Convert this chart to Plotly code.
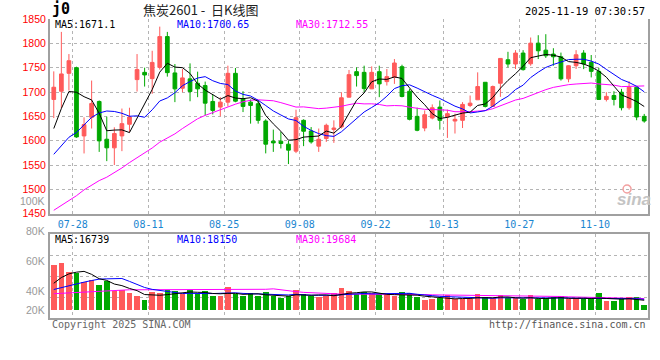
import plotly.graph_objects as go

# ---------------- data ----------------
dates = [
    "2025-07-23", "2025-07-24", "2025-07-25", "2025-07-28", "2025-07-29", "2025-07-30", "2025-07-31",
    "2025-08-01", "2025-08-04", "2025-08-05", "2025-08-06", "2025-08-07", "2025-08-08", "2025-08-11",
    "2025-08-12", "2025-08-13", "2025-08-14", "2025-08-15", "2025-08-18", "2025-08-19", "2025-08-20",
    "2025-08-21", "2025-08-22", "2025-08-25", "2025-08-26", "2025-08-27", "2025-08-28", "2025-08-29",
    "2025-09-01", "2025-09-02", "2025-09-03", "2025-09-04", "2025-09-05", "2025-09-08", "2025-09-09",
    "2025-09-10", "2025-09-11", "2025-09-12", "2025-09-15", "2025-09-16", "2025-09-17", "2025-09-18",
    "2025-09-19", "2025-09-22", "2025-09-23", "2025-09-24", "2025-09-25", "2025-09-26", "2025-09-29",
    "2025-09-30", "2025-10-09", "2025-10-10", "2025-10-13", "2025-10-14", "2025-10-15", "2025-10-16",
    "2025-10-17", "2025-10-20", "2025-10-21", "2025-10-22", "2025-10-23", "2025-10-24", "2025-10-27",
    "2025-10-28", "2025-10-29", "2025-10-30", "2025-10-31", "2025-11-03", "2025-11-04", "2025-11-05",
    "2025-11-06", "2025-11-07", "2025-11-10", "2025-11-11", "2025-11-12", "2025-11-13", "2025-11-14",
    "2025-11-17", "2025-11-18",
]

opens = [1684.7, 1701.6, 1738.4, 1750.0, 1609.8, 1648.0, 1680.6, 1603.0, 1585.3, 1609.8,
         1633.7, 1725.5, 1740.4, 1727.5, 1750.6, 1813.9, 1739.2, 1707.7, 1727.0, 1718.0,
         1713.3, 1680.6, 1669.0, 1679.2, 1738.4, 1686.1, 1679.2, 1675.9, 1640.4, 1599.0,
         1599.0, 1592.8, 1578.5, 1641.8, 1620.0, 1588.8, 1604.5, 1622.8, 1628.2, 1689.4,
         1741.8, 1740.4, 1706.5, 1741.8, 1721.4, 1730.2, 1752.0, 1701.6, 1650.0, 1626.0,
         1646.5, 1669.0, 1648.6, 1640.4, 1641.8, 1672.4, 1684.0, 1720.0, 1670.4, 1718.0,
         1766.3, 1757.5, 1780.0, 1758.0, 1800.4, 1786.0, 1778.0, 1772.4, 1727.0, 1754.0,
         1780.0, 1761.0, 1742.4, 1684.7, 1692.8, 1699.6, 1667.7, 1709.8, 1650.0]
highs = [1742.4, 1823.5, 1778.0, 1752.0, 1648.0, 1723.5, 1682.6, 1649.4, 1627.5, 1666.0,
         1667.7, 1778.0, 1750.0, 1784.7, 1834.3, 1823.5, 1757.5, 1747.3, 1758.8, 1741.8,
         1721.4, 1694.9, 1689.4, 1754.1, 1749.4, 1701.6, 1684.7, 1682.6, 1643.9, 1622.8,
         1618.0, 1599.6, 1663.7, 1643.9, 1628.0, 1625.0, 1635.0, 1641.8, 1699.6, 1745.3,
         1750.6, 1754.1, 1752.7, 1754.1, 1747.3, 1767.7, 1756.1, 1706.5, 1667.7, 1662.2,
         1674.5, 1682.6, 1663.7, 1655.5, 1679.2, 1692.8, 1740.4, 1720.0, 1713.3, 1769.8,
         1782.6, 1786.0, 1786.0, 1812.0, 1816.7, 1818.8, 1790.0, 1781.0, 1755.0, 1786.0,
         1786.0, 1776.0, 1749.4, 1699.6, 1701.6, 1706.5, 1722.0, 1710.0, 1655.0]
lows = [1646.5, 1666.0, 1703.0, 1606.0, 1573.8, 1625.0, 1577.0, 1558.0, 1550.0, 1578.5,
        1617.3, 1701.0, 1711.2, 1696.3, 1746.0, 1731.6, 1679.2, 1699.6, 1681.0, 1689.4,
        1652.0, 1654.0, 1650.0, 1670.4, 1679.0, 1658.8, 1635.0, 1635.0, 1573.9, 1577.0,
        1584.0, 1552.0, 1574.5, 1588.8, 1594.0, 1577.0, 1597.5, 1595.5, 1625.0, 1688.8,
        1711.2, 1699.6, 1706.0, 1689.4, 1713.3, 1716.7, 1689.0, 1641.8, 1619.4, 1619.4,
        1643.9, 1622.8, 1605.7, 1614.7, 1626.0, 1669.0, 1684.0, 1668.3, 1670.0, 1690.0,
        1750.6, 1747.3, 1744.0, 1754.0, 1767.7, 1770.0, 1754.0, 1723.5, 1720.0, 1747.3,
        1747.0, 1730.0, 1684.0, 1680.6, 1672.4, 1662.2, 1663.7, 1642.0, 1637.0]
closes = [1709.8, 1737.1, 1764.3, 1607.7, 1633.0, 1676.5, 1599.6, 1585.3, 1614.7, 1635.0,
          1648.6, 1746.0, 1735.1, 1760.8, 1813.9, 1739.8, 1706.5, 1729.0, 1701.0, 1706.5,
          1677.1, 1662.2, 1679.2, 1738.4, 1681.2, 1670.4, 1672.4, 1641.8, 1592.8, 1595.5,
          1594.2, 1580.6, 1647.3, 1619.4, 1597.5, 1603.0, 1631.6, 1626.0, 1688.2, 1735.7,
          1733.7, 1707.0, 1740.4, 1716.7, 1731.6, 1759.6, 1690.8, 1643.9, 1621.4, 1653.4,
          1667.7, 1641.8, 1655.5, 1643.9, 1674.5, 1677.1, 1711.2, 1670.4, 1711.2, 1769.0,
          1757.5, 1780.0, 1746.0, 1800.4, 1784.7, 1774.5, 1772.4, 1727.0, 1754.0, 1776.5,
          1757.5, 1742.4, 1684.7, 1691.0, 1684.7, 1667.7, 1709.8, 1648.6, 1640.4]
volumes = [75400, 77550, 62700, 61550, 46200, 50650, 41250, 49000, 31350, 33000,
           27550, 23100, 16500, 29700, 28550, 33000, 31350, 25900, 34150, 25900,
           31350, 23100, 23100, 37950, 25900, 23100, 27550, 23100, 29700, 23100,
           19300, 23100, 34150, 25900, 23100, 21950, 23100, 27550, 37450, 32500,
           25900, 29700, 27550, 25900, 24250, 23100, 29700, 27550, 21450, 16000,
           18650, 19300, 24250, 17650, 18650, 18650, 25900, 21450, 20300, 24250,
           19300, 19300, 18650, 24250, 17650, 19300, 21450, 23100, 18650, 19300,
           18650, 18650, 27550, 14850, 14850, 17650, 21950, 21950, 7750]

# moving-average values before a full window exists
ma5_lead = [1625, 1666, 1701, 1699.6]
ma10_lead = [1572, 1590, 1607, 1617, 1632, 1648, 1657, 1661, 1660]
ma30_lead = [1457, 1467, 1477, 1487, 1499, 1509, 1518, 1525, 1534, 1544,
             1555, 1565, 1574, 1585, 1597, 1605, 1614, 1625, 1635, 1645,
             1652, 1658, 1664, 1670, 1675, 1680, 1683, 1684, 1683]
vol_ma5_lead = [45000, 54450, 60550, 63350]
vol_ma10_lead = [34650, 37950, 40750, 43550, 46850, 49500, 51800, 52300, 52000]
vol_ma30_lead = [27700, 28400, 29050, 29700, 30350, 31200, 32000, 32650, 33150, 34200,
                 34200, 34200, 34200, 34200, 34200, 34200, 34200, 34200, 34200, 35000,
                 35000, 35000, 35000, 35000, 35000, 35000, 35000, 35000, 35000]

date_ticks = ["07-28", "08-11", "08-25", "09-08", "09-22", "10-13", "10-27", "11-10"]
price_ticks = [1450, 1500, 1550, 1600, 1650, 1700, 1750, 1800, 1850]
vol_labels = ["100K", "80K", "60K", "40K", "20K"]

title_left = "j0"
title_mid = "焦炭2601 - \u00a0日K线图"
stamp = "2025-11-19 07:30:57"
legend_price = ["MA5:1671.1", "MA10:1700.65", "MA30:1712.55"]
legend_vol = ["MA5:16739", "MA10:18150", "MA30:19684"]


def moving_average(values, n, lead):
    out = list(lead)
    for i in range(len(lead), len(values)):
        out.append(sum(values[i - n + 1:i + 1]) / n)
    return out


# ---------------- styling ----------------
RED = "#ff5a5a"
GREEN = "#00a800"
BLUE = "#0000ff"
MAGENTA = "#ff00ff"
GRID = "#b4b4b4"
FRAME = "#a0a0a0"
MONO = "DejaVu Sans Mono"
SANS = "Liberation Sans"

W, H = 660, 360
ML, MR, MT, MB = 50, 10, 19, 42
PH = H - MT - MB


def py(pix):  # pixel row -> paper y
    return (H - MB - pix) / PH


def px(pix):  # pixel column -> paper x
    return (pix - ML) / (W - ML - MR)


x = list(range(len(dates)))
tick_idx = [i for i, d in enumerate(dates) if d[5:] in date_ticks]
tick_vals = [i - 0.5 for i in tick_idx]
tick_text = [dates[i][5:] for i in tick_idx]

ma5 = moving_average(closes, 5, ma5_lead)
ma10 = moving_average(closes, 10, ma10_lead)
ma30 = moving_average(closes, 30, ma30_lead)
vma5 = moving_average(volumes, 5, vol_ma5_lead)
vma10 = moving_average(volumes, 10, vol_ma10_lead)
vma30 = moving_average(volumes, 30, vol_ma30_lead)

fig = go.Figure()
fig.add_trace(go.Candlestick(
    x=x, open=opens, high=highs, low=lows, close=closes,
    increasing=dict(line=dict(color=RED, width=1), fillcolor=RED),
    decreasing=dict(line=dict(color=GREEN, width=1), fillcolor=GREEN),
    whiskerwidth=0, hoverinfo="skip", showlegend=False, xaxis="x", yaxis="y"))
for vals, col in ((ma30, MAGENTA), (ma10, BLUE), (ma5, "#000000")):
    fig.add_trace(go.Scatter(x=x, y=vals, mode="lines", line=dict(color=col, width=1),
                             hoverinfo="skip", showlegend=False, xaxis="x", yaxis="y"))

bar_colors = [RED if c >= o else GREEN for o, c in zip(opens, closes)]
fig.add_trace(go.Bar(x=x, y=volumes, marker=dict(color=bar_colors, line=dict(width=0)),
                     width=0.74, hoverinfo="skip", showlegend=False, xaxis="x2", yaxis="y2"))
for vals, col in ((vma30, MAGENTA), (vma10, BLUE), (vma5, "#000000")):
    fig.add_trace(go.Scatter(x=x, y=vals, mode="lines", line=dict(color=col, width=1),
                             hoverinfo="skip", showlegend=False, xaxis="x2", yaxis="y2"))

vol_per_px = 1650.0
vol_base_px = 310.7
vol_top, vol_bot = 234.3, 318.3
vol_range = [(vol_base_px - vol_bot) * vol_per_px, (vol_base_px - vol_top) * vol_per_px]
vol_grid = [vol_range[0] + (vol_range[1] - vol_range[0]) * k / 4 for k in (1, 2, 3)]

main_dom = [py(213.7), 1.0]
vol_dom = [0.0, py(vol_top)]

axis_common = dict(showgrid=True, gridcolor=GRID, griddash="dot", gridwidth=1,
                   zeroline=False, ticks="", showline=True, linecolor=FRAME, linewidth=2)

fig.update_layout(
    width=W, height=H, margin=dict(l=ML, r=MR, t=MT, b=MB),
    paper_bgcolor="white", plot_bgcolor="white", bargap=0,
    xaxis=dict(domain=[0, 1], range=[-0.5, len(dates) - 0.5], anchor="y",
               tickmode="array", tickvals=tick_vals, ticktext=tick_text,
               tickfont=dict(family=MONO, size=10, color="#1a86d0"),
               rangeslider=dict(visible=False), **axis_common),
    yaxis=dict(domain=main_dom, range=[1450, 1850], anchor="x",
               tickmode="array", tickvals=price_ticks,
               tickfont=dict(family=SANS, size=10.5, color="#ff0000"),
               mirror=True, **axis_common),
    xaxis2=dict(domain=[0, 1], range=[-0.5, len(dates) - 0.5], anchor="y2", matches="x",
                tickmode="array", tickvals=tick_vals, showticklabels=False,
                mirror=True, **axis_common),
    yaxis2=dict(domain=vol_dom, range=vol_range, anchor="x2",
                tickmode="array", tickvals=vol_grid, showticklabels=False,
                mirror=True, **axis_common),
)

ann = []
# top texts
ann.append(dict(text="<b>" + title_left + "</b>", x=px(50), y=py(9.5), xanchor="left", yanchor="middle",
                font=dict(family=MONO, size=15, color="#000000")))
ann.append(dict(text=title_mid, x=px(202), y=py(9), xanchor="center", yanchor="middle",
                font=dict(family="Noto Sans CJK SC", size=13, color="#222222")))
ann.append(dict(text=stamp, x=px(649), y=py(11), xanchor="right", yanchor="middle",
                font=dict(family=MONO, size=10.5, color="#000000")))
# legends
for txt, xp, col in zip(legend_price, (53, 175, 295), ("#000000", BLUE, MAGENTA)):
    ann.append(dict(text=txt, x=px(xp), y=py(24.5), xanchor="left", yanchor="middle",
                    font=dict(family=MONO, size=10, color=col)))
for txt, xp, col in zip(legend_vol, (53, 175, 295), ("#000000", BLUE, MAGENTA)):
    ann.append(dict(text=txt, x=px(xp), y=py(239), xanchor="left", yanchor="middle",
                    font=dict(family=MONO, size=10, color=col)))
# volume scale labels
for txt, yp in zip(vol_labels, (201, 231, 261, 290.5, 310)):
    ann.append(dict(text=txt, x=px(47), y=py(yp), xanchor="right", yanchor="middle",
                    font=dict(family=SANS, size=10.5, color="#999999")))
# footer
ann.append(dict(text="Copyright 2025 SINA.COM", x=px(50), y=py(324), xanchor="left", yanchor="middle",
                font=dict(family=MONO, size=10, color="#666666")))
ann.append(dict(text="http://finance.sina.com.cn", x=px(650), y=py(324), xanchor="right", yanchor="middle",
                font=dict(family=MONO, size=10, color="#555555")))
# watermark
ann.append(dict(text="sina", x=px(636), y=py(199), xanchor="center", yanchor="middle",
                font=dict(family=SANS, size=17, color="#c4c4c4", weight="bold", style="italic")))
for a in ann:
    a.update(xref="paper", yref="paper", showarrow=False)
fig.update_layout(annotations=ann)

fig.add_shape(type="circle", xref="paper", yref="paper",
              x0=px(625), x1=px(633), y0=py(193), y1=py(185),
              line=dict(color="#f2a0a0", width=1.5))

fig.write_html("out.html", config={"displayModeBar": False},
               post_script="document.body.style.margin='0px';")
